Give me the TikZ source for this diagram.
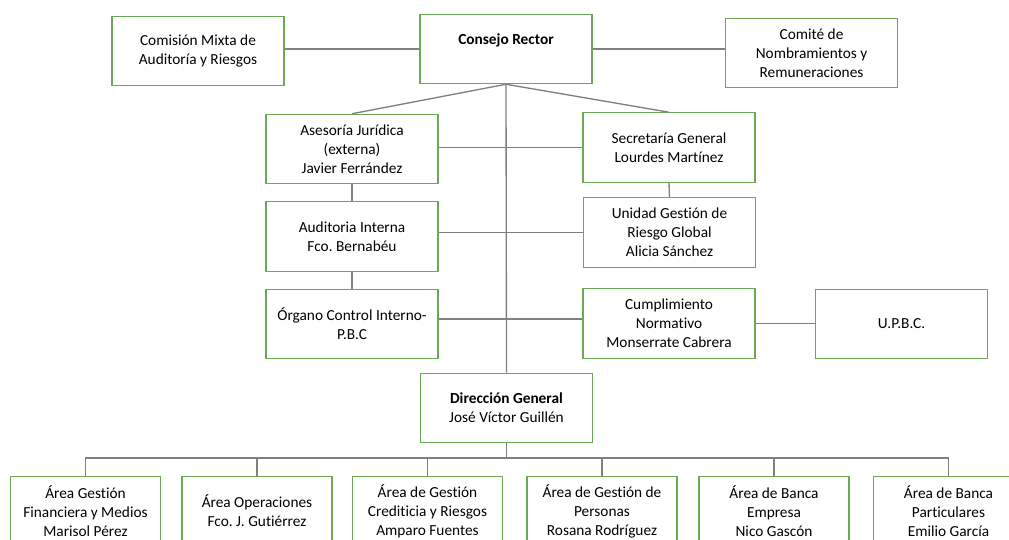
\documentclass[tikz,border=0pt]{standalone}
\usepackage{fontspec}
\setmainfont{Carlito}[Ligatures=NoCommon]
\usepackage{tikz}
\usetikzlibrary{positioning}
\frenchspacing

\definecolor{boxgreen}{RGB}{106,170,86}
\definecolor{linegrey}{RGB}{128,128,128}

\begin{document}
\begin{tikzpicture}[
x=0.75pt, y=-0.75pt,
unit/.style={draw=boxgreen, line width=0.9pt, fill=white, align=center,
  font=\fontsize{11.5pt}{14.2pt}\selectfont, inner sep=2pt,
  minimum width=129pt, minimum height=52pt},
area/.style={unit, minimum width=112.5pt},
link/.style={draw=linegrey, line width=1pt},
]
\useasboundingbox (0,0) rectangle (1009,539);
\clip (0,0) rectangle (1009,539);

\node[unit] (com) at (198,51) {Comisión Mixta de\\Auditoría y Riesgos};
\node[unit] (cr) at (506,49) {\textbf{Consejo Rector}\\\mbox{}};
\node[unit] (cnr) at (811.5,53) {Comité de\\Nombramientos y\\Remuneraciones};

\node[unit] (as) at (352,149) {Asesoría Jurídica\\(externa)\\Javier Ferrández};
\node[unit] (sg) at (669,147.5) {Secretaría General\\Lourdes Martínez};
\node[unit] (ai) at (352,236.5) {Auditoria Interna\\Fco. Bernabéu};
\node[unit] (ug) at (669.5,232.5) {Unidad Gestión de\\Riesgo Global\\Alicia Sánchez};
\node[unit] (oc) at (352,324) {Órgano Control Interno-\\P.B.C};
\node[unit] (cn) at (669,323.5) {Cumplimiento\\Normativo\\Monserrate Cabrera};
\node[unit] (up) at (901.5,324) {U.P.B.C.};

\node[unit] (dg) at (506.5,408) {\textbf{Dirección General}\\José Víctor Guillén};

\node[area] (b1) at (85.5,511) {Área Gestión\\Financiera y Medios\\Marisol Pérez};
\node[area] (b2) at (257,511) {Área Operaciones\\Fco. J. Gutiérrez};
\node[area] (b3) at (427.5,511) {Área de Gestión\\Crediticia y Riesgos\\Amparo Fuentes};
\node[area] (b4) at (602,511) {Área de Gestión de\\Personas\\Rosana Rodríguez};
\node[area] (b5) at (774,511) {Área de Banca\\Empresa\\Nico Gascón};
\node[area] (b6) at (948.5,511) {Área de Banca\\Particulares\\Emilio García};

\coordinate (bus) at (506,458);

\path[link]
(com.east |- cr.west) edge (cr.west)
(cr.east) edge (cr.east -| cnr.west)
(cr.south) edge (as.north)
(cr.south) edge (sg.north)
(cr.south) edge (dg.north)
(as.east |- sg.west) edge (sg.west)
(as.south) edge (ai.north)
(sg.south) edge (ug.north)
(ai.east |- ug.west) edge (ug.west)
(ai.south) edge (oc.north)
([yshift=3.75pt]oc.east) edge ([yshift=3.75pt]oc.east -| cn.west)
(cn.east) edge (cn.east -| up.west)
;

\foreach \k in {1,...,6}
  \draw[link] (dg.south) -- (dg.south |- bus) -| (b\k.north);
\end{tikzpicture}
\end{document}
